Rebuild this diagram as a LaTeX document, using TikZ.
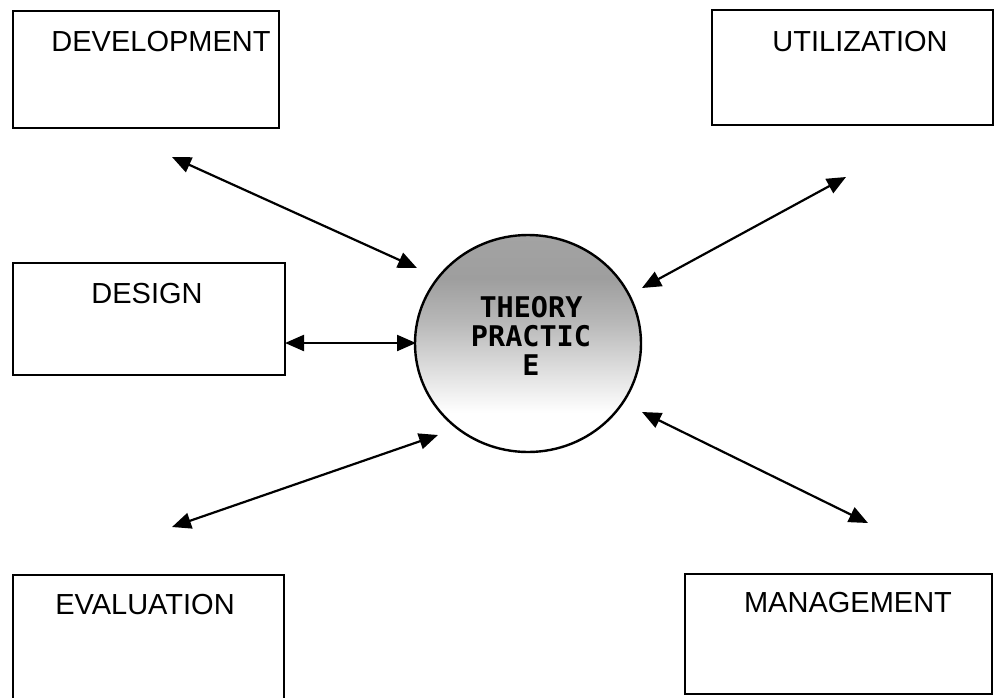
\documentclass[tikz,border=0pt]{standalone}
\usepackage{fontspec}
\setmainfont{Liberation Sans}
\newfontfamily\corefont{DejaVu Sans Mono}
\usetikzlibrary{arrows.meta,shapes.geometric}

% dark at the top of the disc, fading to white towards the bottom
\pgfdeclareverticalshading{halftone}{100bp}{%
  color(0bp)=(white); color(34bp)=(white); color(44bp)=(black!13);
  color(55bp)=(black!28); color(65bp)=(black!38); color(75bp)=(black!36);
  color(100bp)=(black!36)}

\tikzset{
  area/.style={draw, line width=1.8pt, rectangle, inner sep=0pt},
  areaname/.style={font=\fontsize{29}{29}\selectfont, inner sep=0pt, anchor=center},
  tip/.style={Triangle[length=19pt,width=16pt]},
  link/.style={line width=2.2pt, {Triangle[length=19pt,width=16pt]}-{Triangle[length=19pt,width=16pt]}},
  core/.style={ellipse, draw, line width=2.4pt, shading=halftone, inner sep=0pt},
  corename/.style={font=\corefont\bfseries\fontsize{28.5}{29}\selectfont, align=center, inner sep=0pt}
}

\begin{document}
\begin{tikzpicture}[x=1pt,y=-1pt]
  \useasboundingbox (0,0) rectangle (994,697);
  \clip (0,0) rectangle (994,697);

  % the five domain boxes
  \node[area, minimum width=266pt, minimum height=117pt] (dev)    at (146,69.5)  {};
  \node[area, minimum width=281pt, minimum height=115pt] (util)   at (852.5,67.5) {};
  \node[area, minimum width=272pt, minimum height=112pt] (design) at (149,319)   {};
  \node[area, minimum width=271pt, minimum height=130pt] (eval)   at (148.5,640) {};
  \node[area, minimum width=307pt, minimum height=120pt] (mgmt)   at (838.5,634) {};

  \node[areaname] (devname)    at (161,42)  {DEVELOPMENT};
  \node[areaname] (utilname)   at (860,42)  {UTILIZATION};
  \node[areaname] (designname) at (147,294) {DESIGN};
  \node[areaname] (evalname)   at (145,605) {EVALUATION};
  \node[areaname] (mgmtname)   at (848,603) {MANAGEMENT};

  % central disc
  \node[core, minimum width=226pt, minimum height=217pt] (hub) at (528,343.5) {};
  \node[corename] (hubname) at (531,336) {THEORY\\PRACTIC\\E};

  % arrow ends
  \coordinate (devA)    at (172,157);
  \coordinate (devB)    at (417,268);
  \coordinate (utilA)   at (846,177);
  \coordinate (utilB)   at (642,288);
  \coordinate (designA) at (285,343);
  \coordinate (designB) at (416,343);
  \coordinate (evalA)   at (172,527);
  \coordinate (evalB)   at (438,435);
  \coordinate (mgmtA)   at (868,523);
  \coordinate (mgmtB)   at (642,412);

  \draw[link] (devA)    -- (devB);
  \draw[link] (utilA)   -- (utilB);
  \draw[link] (designA) -- (designB);
  \draw[link] (evalA)   -- (evalB);
  \draw[link] (mgmtA)   -- (mgmtB);
\end{tikzpicture}
\end{document}
